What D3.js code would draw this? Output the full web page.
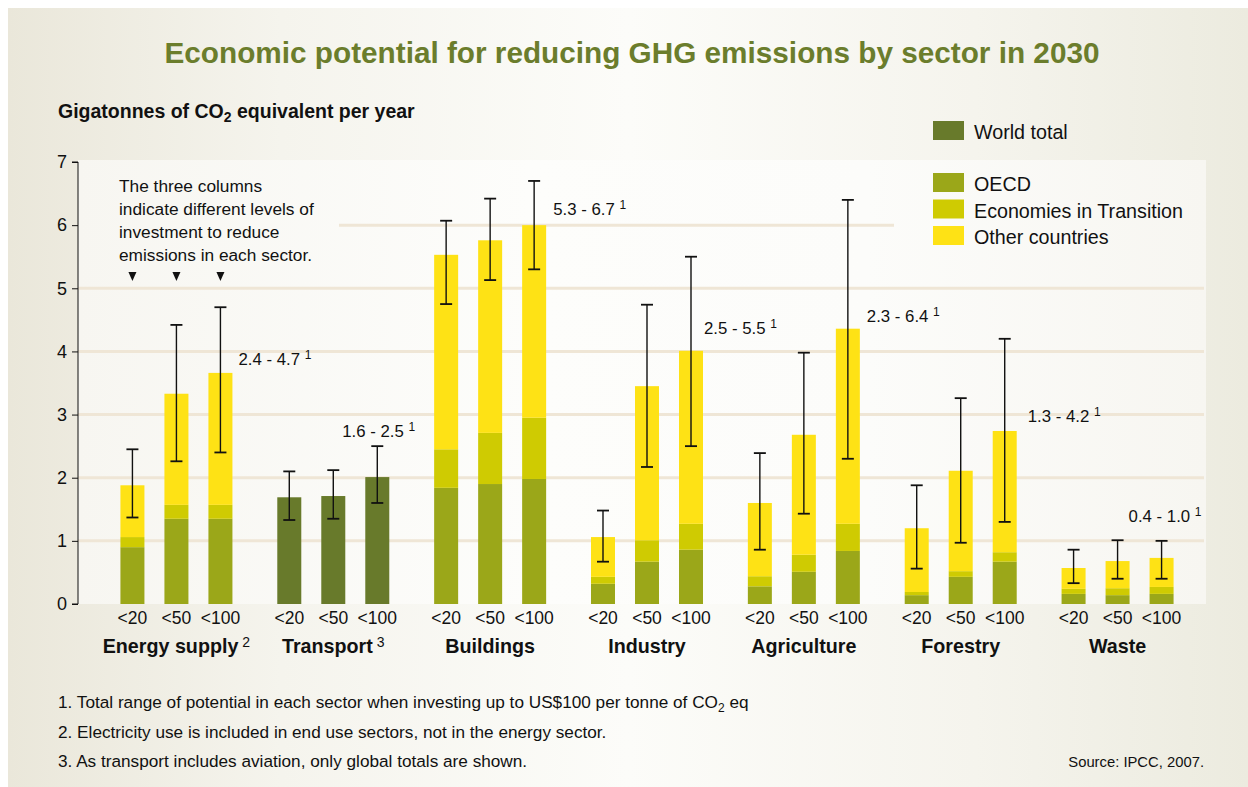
<!DOCTYPE html>
<html>
<head>
<meta charset="utf-8">
<script src="https://cdn.jsdelivr.net/npm/d3@7"></script>
<style>
  body { margin: 0; background: #ffffff; }
  svg { display: block; }
  text { font-family: "Liberation Sans", Arial, Helvetica, sans-serif; fill: #111; }
</style>
</head>
<body>
<svg id="chart" width="1248" height="787"></svg>
<script>
// ---- Data (Gt CO2-eq per year, 2030) ----
const sectors = ["Energy supply", "Transport", "Buildings", "Industry", "Agriculture", "Forestry", "Waste"];
const sectorNotes = ["2", "3", "", "", "", "", ""];
const levels = ["<20", "<50", "<100"];
const yTicks = [0, 1, 2, 3, 4, 5, 6, 7];

// Regional split per sector, one value per investment level (<20, <50, <100)
const oecd = [
  [0.90, 1.35, 1.35],
  [0, 0, 0],
  [1.84, 1.90, 1.98],
  [0.32, 0.67, 0.86],
  [0.28, 0.51, 0.84],
  [0.14, 0.43, 0.67],
  [0.16, 0.14, 0.16]
];
const transition = [
  [0.16, 0.22, 0.22],
  [0, 0, 0],
  [0.61, 0.81, 0.97],
  [0.11, 0.34, 0.41],
  [0.16, 0.27, 0.43],
  [0.05, 0.09, 0.15],
  [0.08, 0.11, 0.11]
];
const other = [
  [0.82, 1.76, 2.09],
  [0, 0, 0],
  [3.08, 3.05, 3.05],
  [0.63, 2.44, 2.74],
  [1.16, 1.90, 3.09],
  [1.01, 1.59, 1.92],
  [0.33, 0.43, 0.46]
];
// Transport is only given as a global total
const worldTotal = [
  null,
  [1.69, 1.71, 2.01],
  null, null, null, null, null
];

// Uncertainty ranges; the <100 column is the sector's total range of potential
const rangeLow = [
  [1.37, 2.26, 2.4],
  [1.33, 1.35, 1.6],
  [4.75, 5.13, 5.3],
  [0.67, 2.17, 2.5],
  [0.86, 1.43, 2.3],
  [0.56, 0.97, 1.3],
  [0.33, 0.40, 0.4]
];
const rangeHigh = [
  [2.45, 4.42, 4.7],
  [2.10, 2.12, 2.5],
  [6.07, 6.42, 6.7],
  [1.48, 4.74, 5.5],
  [2.39, 3.98, 6.4],
  [1.88, 3.26, 4.2],
  [0.86, 1.01, 1.0]
];

const seriesNames = ["OECD", "Economies in Transition", "Other countries"];
const worldName = "World total";
const footnotes = [
  ["1. Total range of potential in each sector when investing up to US$100 per tonne of CO", "2", " eq"],
  ["2. Electricity use is included in end use sectors, not in the energy sector."],
  ["3. As transport includes aviation, only global totals are shown."]
];
const annotationLines = ["The three columns", "indicate different levels of", "investment to reduce", "emissions in each sector."];

// ---- Styling / layout ----
const colors = { world: "#687a2b", OECD: "#9ba719", EIT: "#cfcb02", other: "#fee215" };
const seriesColors = [colors.OECD, colors.EIT, colors.other];
// where each sector's range label sits: [x offset from the <100 column, height in Gt]
const rangeLabelAt = [[18, 3.79], [-35, 2.64], [19, 6.16], [13, 4.28], [19, 4.47], [23, 2.88], [-33, 1.30]];

const svg = d3.select("#chart");
const defs = svg.append("defs");

const bgGrad = defs.append("linearGradient").attr("id", "bgGrad").attr("x1", 0).attr("x2", 1).attr("y1", 0).attr("y2", 0);
[[0, "#eae7da"], [0.22, "#f5f4ed"], [0.5, "#fcfcf9"], [0.78, "#f5f4ed"], [1, "#ecebdf"]]
  .forEach(([o, c]) => bgGrad.append("stop").attr("offset", o).attr("stop-color", c));
const panelGrad = defs.append("linearGradient").attr("id", "panelGrad").attr("x1", 0).attr("x2", 1).attr("y1", 0).attr("y2", 0);
[[0, "#f7f6f1"], [0.4, "#fdfdfb"], [0.7, "#fcfcfa"], [1, "#f7f6f1"]]
  .forEach(([o, c]) => panelGrad.append("stop").attr("offset", o).attr("stop-color", c));

svg.append("rect").attr("x", 8).attr("y", 8).attr("width", 1240).attr("height", 779).attr("fill", "url(#bgGrad)");

const plot = { left: 78, right: 1206, top: 160, bottom: 604 };
svg.append("rect").attr("x", plot.left).attr("y", plot.top)
  .attr("width", plot.right - plot.left).attr("height", plot.bottom - plot.top)
  .attr("fill", "url(#panelGrad)");

// ---- Scales ----
const y = d3.scaleLinear().domain([0, 7]).range([604, 162]);
const xSector = d3.scaleBand().domain(sectors).range([98, 1196]).paddingInner(0).paddingOuter(0);
const bw = xSector.bandwidth();
const xLevel = d3.scaleBand().domain(levels).range([0, bw]).paddingInner(20 / 44)
  .paddingOuter((bw / 44 - 3 + 20 / 44) / 2);
const barW = xLevel.bandwidth();
const cx = (si, li) => xSector(sectors[si]) + xLevel(levels[li]) + barW / 2;

// ---- Gridlines ----
const grid = svg.append("g");
yTicks.filter(t => t > 0 && t < 7).forEach(t => {
  const x1 = t === 6 ? 339 : plot.left;
  const x2 = t === 6 ? 894 : 1204;
  grid.append("line").attr("x1", x1).attr("x2", x2).attr("y1", y(t)).attr("y2", y(t))
    .attr("stroke", "#efe6d6").attr("stroke-width", 3);
});

// ---- Y axis ----
const yAxis = svg.append("g").attr("transform", `translate(${plot.left},0)`)
  .call(d3.axisLeft(y).tickValues(yTicks).tickSize(6).tickPadding(5).tickFormat(d3.format("d")));
yAxis.select(".domain").attr("stroke", "#111").attr("d", `M-6,${y(7)}H0V${y(0)}H-6`);
yAxis.selectAll(".tick line").attr("stroke", "#111");
yAxis.selectAll(".tick text").attr("font-size", 18).attr("font-family", "Liberation Sans, Arial, sans-serif").attr("fill", "#111");

// ---- Bars ----
const bars = svg.append("g");
sectors.forEach((s, si) => {
  levels.forEach((lv, li) => {
    const x0 = cx(si, li) - barW / 2;
    if (worldTotal[si]) {
      const v = worldTotal[si][li];
      bars.append("rect").attr("x", x0).attr("width", barW)
        .attr("y", y(v)).attr("height", y(0) - y(v)).attr("fill", colors.world);
    } else {
      const parts = [oecd[si][li], transition[si][li], other[si][li]];
      let base = 0;
      parts.forEach((v, k) => {
        bars.append("rect").attr("x", x0).attr("width", barW)
          .attr("y", y(base + v)).attr("height", y(base) - y(base + v)).attr("fill", seriesColors[k]);
        base += v;
      });
    }
  });
});

// ---- Range whiskers ----
const whisk = svg.append("g").attr("stroke", "#111").attr("stroke-width", 1.4);
sectors.forEach((s, si) => {
  levels.forEach((lv, li) => {
    const c = cx(si, li), lo = y(rangeLow[si][li]), hi = y(rangeHigh[si][li]);
    whisk.append("line").attr("x1", c).attr("x2", c).attr("y1", lo).attr("y2", hi);
    whisk.append("line").attr("x1", c - 6).attr("x2", c + 6).attr("y1", lo).attr("y2", lo).attr("stroke-width", 1.8);
    whisk.append("line").attr("x1", c - 6).attr("x2", c + 6).attr("y1", hi).attr("y2", hi).attr("stroke-width", 1.8);
  });
});

// ---- Range labels ----
const fmt = d3.format(".1f");
sectors.forEach((s, si) => {
  const [dx, at] = rangeLabelAt[si];
  const t = svg.append("text").attr("x", cx(si, 2) + dx).attr("y", y(at)).attr("font-size", 16.8);
  t.append("tspan").text(`${fmt(rangeLow[si][2])} - ${fmt(rangeHigh[si][2])} `);
  t.append("tspan").attr("font-size", 12).attr("dy", -6).text("1");
});

// ---- Category labels ----
sectors.forEach((s, si) => {
  levels.forEach((lv, li) => {
    svg.append("text").attr("x", cx(si, li)).attr("y", 624).attr("text-anchor", "middle")
      .attr("font-size", 17.5).text(lv);
  });
  const t = svg.append("text").attr("x", xSector(s) + bw / 2).attr("y", 653)
    .attr("text-anchor", "middle").attr("font-size", 19.7).attr("font-weight", "bold");
  t.append("tspan").text(s);
  if (sectorNotes[si]) {
    t.append("tspan").attr("font-size", 14).attr("font-weight", "normal").attr("dx", 4).attr("dy", -6).text(sectorNotes[si]);
  }
});

// ---- Annotation ----
annotationLines.forEach((l, i) => {
  svg.append("text").attr("x", 119).attr("y", 192 + i * 23).attr("font-size", 17.3).text(l);
});
levels.forEach((lv, li) => {
  const c = cx(0, li);
  svg.append("path").attr("d", `M${c - 4},272L${c + 4},272L${c},281Z`).attr("fill", "#111");
});

// ---- Title and axis caption ----
svg.append("text").attr("x", 632).attr("y", 63).attr("text-anchor", "middle")
  .attr("font-size", 29).attr("font-weight", "bold").style("fill", "#6b7d2c")
  .attr("textLength", 935).attr("lengthAdjust", "spacingAndGlyphs")
  .text("Economic potential for reducing GHG emissions by sector in 2030");

const cap = svg.append("text").attr("x", 58).attr("y", 118).attr("font-size", 19.5).attr("font-weight", "bold");
cap.append("tspan").text("Gigatonnes of CO");
cap.append("tspan").attr("font-size", 14).attr("dy", 4).text("2");
cap.append("tspan").attr("dy", -4).text(" equivalent per year");

// ---- Legend ----
const legend = svg.append("g");
legend.append("rect").attr("x", 933).attr("y", 121).attr("width", 31).attr("height", 19).attr("fill", colors.world);
legend.append("text").attr("x", 974).attr("y", 139).attr("font-size", 19.7).text(worldName);
seriesNames.forEach((n, i) => {
  legend.append("rect").attr("x", 933).attr("y", 173 + i * 26.5).attr("width", 31).attr("height", 19).attr("fill", seriesColors[i]);
  legend.append("text").attr("x", 974).attr("y", 191 + i * 26.5).attr("font-size", 19.7).text(n);
});

// ---- Footnotes ----
footnotes.forEach((parts, i) => {
  const t = svg.append("text").attr("x", 58).attr("y", 708 + i * 29.5).attr("font-size", 17.2);
  t.append("tspan").text(parts[0]);
  if (parts.length > 1) {
    t.append("tspan").attr("font-size", 12).attr("dy", 4).text(parts[1]);
    t.append("tspan").attr("dy", -4).text(parts[2]);
  }
});
svg.append("text").attr("x", 1204).attr("y", 767).attr("text-anchor", "end").attr("font-size", 14.8)
  .text("Source: IPCC, 2007.");
</script>
</body>
</html>
